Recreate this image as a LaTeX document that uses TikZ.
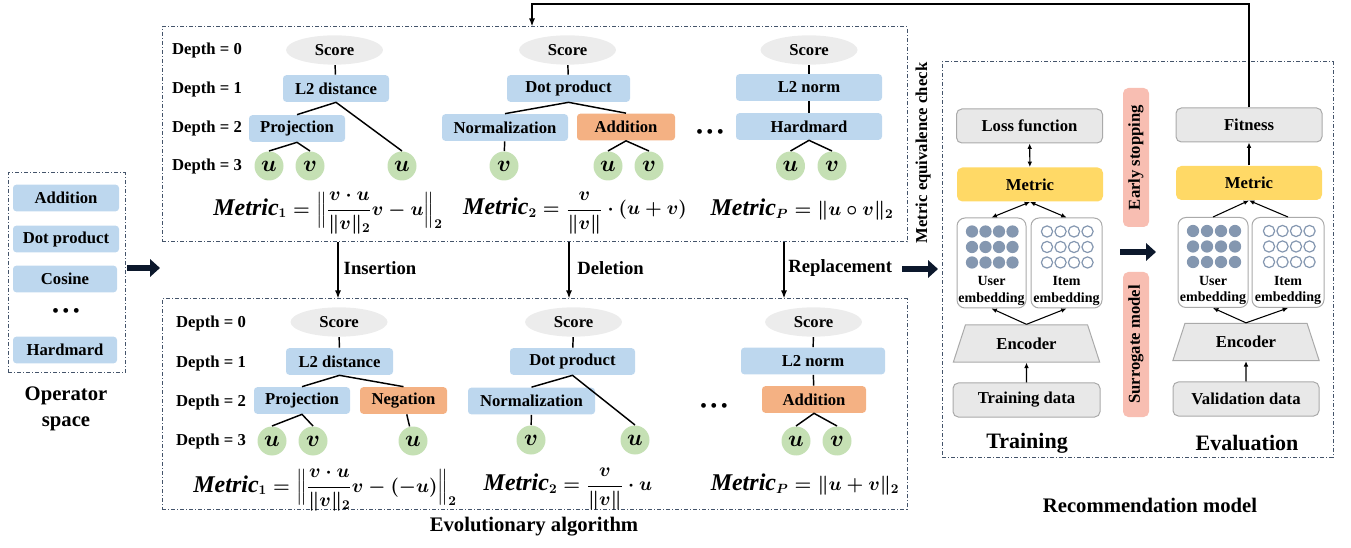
\documentclass[tikz,border=0pt]{standalone}
\usepackage{amsmath}
\usepackage{fontspec}
\setmainfont{Liberation Serif}
\usetikzlibrary{shapes.geometric,arrows.meta}

\newcommand{\metricword}{\mbox{\fontsize{18}{20}\selectfont\bfseries\itshape Metric}}

\tikzset{every picture/.style={line width=0.75pt}}
\tikzset{
  opbox/.style={fill={rgb, 255:red, 189; green, 215; blue, 238 }, rounded corners=2.5pt, inner sep=0pt, minimum height=20pt, font=\bfseries\fontsize{12.5}{14}\selectfont},
  newop/.style={opbox, fill={rgb, 255:red, 244; green, 177; blue, 131 }},
  scorenode/.style={ellipse, fill={rgb, 255:red, 236; green, 236; blue, 236 }, inner sep=0pt, minimum width=72.75pt, minimum height=22pt, font=\bfseries\fontsize{12.5}{14}\selectfont},
  leaf/.style={circle, fill={rgb, 255:red, 197; green, 224; blue, 180 }, inner sep=0pt, minimum size=21.75pt, font=\fontsize{17}{17}\selectfont\boldmath},
  depthtext/.style={font=\bfseries\fontsize{12.5}{14}\selectfont, inner sep=0.75pt},
  optext/.style={font=\bfseries\fontsize{14}{16}\selectfont, inner sep=0.75pt},
  metrictext/.style={font=\fontsize{14.5}{17}\selectfont\boldmath, inner sep=0.75pt},
  titletext/.style={font=\bfseries\fontsize{15.5}{20}\selectfont, inner sep=0.75pt},
  eaframe/.style={draw={rgb, 255:red, 68; green, 84; blue, 106 }, dash pattern=on 3pt off 1.5pt on 0.75pt off 1.5pt, line width=0.75pt, inner sep=0pt},
  treeline/.style={line width=1.1pt},
  oparrow/.style={-{Latex[length=6pt,width=4.5pt]}, line width=1.1pt},
  thinarrow/.style={-{Latex[length=4pt,width=3.5pt]}, line width=0.8pt},
  twoarrow/.style={{Latex[length=4pt,width=3.5pt]}-{Latex[length=4pt,width=3.5pt]}, line width=0.8pt},
  fatarrow/.style={-{Triangle[length=7.5pt,width=13pt]}, line width=5pt, draw={rgb, 255:red, 12; green, 24; blue, 44 }},
  grayblock/.style={draw={rgb, 255:red, 170; green, 170; blue, 170 }, fill={rgb, 255:red, 232; green, 232; blue, 232 }, rounded corners=4pt, inner sep=0pt, minimum width=109.5pt, minimum height=25.5pt, font=\bfseries\fontsize{12.5}{14}\selectfont},
  metricblock/.style={fill={rgb, 255:red, 255; green, 217; blue, 102 }, rounded corners=4pt, inner sep=0pt, minimum width=109.5pt, minimum height=25.5pt, font=\bfseries\fontsize{12.5}{14}\selectfont},
  embbox/.style={draw={rgb, 255:red, 170; green, 170; blue, 170 }, fill=white, rounded corners=6pt, inner sep=0pt, minimum width=52.5pt, minimum height=67.5pt},
  embtext/.style={font=\bfseries\fontsize{10.5}{12.5}\selectfont, align=center, inner sep=2pt},
  dotfull/.style={fill={rgb, 255:red, 132; green, 151; blue, 176 }},
  dotempty/.style={draw={rgb, 255:red, 132; green, 151; blue, 176 }, fill=white, line width=0.9pt},
  sidebox/.style={fill={rgb, 255:red, 248; green, 190; blue, 178 }, rounded corners=4pt, inner sep=0pt, rotate=90, minimum height=19.5pt, font=\bfseries\fontsize{12.5}{14}\selectfont},
  encoder/.style={trapezium, trapezium stretches=true, trapezium left angle=63, trapezium right angle=63, draw={rgb, 255:red, 170; green, 170; blue, 170 }, fill={rgb, 255:red, 232; green, 232; blue, 232 }, inner sep=0pt, minimum width=110.25pt, minimum height=28pt, font=\bfseries\fontsize{12.5}{14}\selectfont},
}

\begin{document}
\begin{tikzpicture}[x=0.75pt,y=0.75pt,yscale=-1,xscale=1]
\useasboundingbox (0,0) rectangle (1351,548);

%Shape: Operator space
\node[eaframe, minimum width=87.75pt, minimum height=150pt] (opspace) at (66.5,273) {};
\node[opbox, minimum width=79.5pt] (opadd) at (66,198) {Addition};
\node[opbox, minimum width=79.5pt] (opdot) at (66,239) {Dot product};
\node[opbox, minimum width=78pt] (opcos) at (65,279) {Cosine};
\node[font=\fontsize{15}{15}\selectfont] (opmore) at (66,313) {\textbullet\,\textbullet\,\textbullet};
\node[opbox, minimum width=78pt] (ophad) at (65,350) {Hardmard};
% Text Node
\node[titletext, align=center] (oplabel) at (66,409) {Operator\\space};

%Shape: Evolutionary algorithm frames
\node[eaframe, minimum width=558.75pt, minimum height=161.25pt] (eatop) at (534.5,134.5) {};
\node[eaframe, minimum width=558.75pt, minimum height=157.5pt] (eabot) at (534.5,404) {};
% Text Node
\node[titletext] (ealabel) at (534,527) {Evolutionary algorithm};

% Depth labels
\foreach \d/\y in {0/50,1/89,2/128,3/166} \node[depthtext] (dt\d) at (207,\y) {Depth = \d};
\foreach \d/\y in {0/323,1/363,2/402,3/441} \node[depthtext] (db\d) at (211,\y) {Depth = \d};

% Top tree 1
\node[scorenode] (sct1) at (334.5,50) {Score};
\node[opbox, minimum width=79.5pt] (l2t1) at (336,88.5) {L2 distance};
\node[opbox, minimum width=72pt] (prjt1) at (297,128.5) {Projection};
\node[leaf] (ut1) at (269,166) {$u$};
\node[leaf] (vt1) at (310,166) {$v$};
\node[leaf] (ut2) at (402,166) {$u$};
\draw[treeline] (sct1) -- (l2t1);
\draw[treeline] (prjt1.north) -- (l2t1.south) -- (ut2.north);
\draw[treeline] (ut1.north) -- (prjt1.south) -- (vt1.north);
\node[metrictext] (mett1) at (328,213) {$\metricword_1=\Bigl\lVert\dfrac{v\cdot u}{\lVert v\rVert_2}v-u\Bigr\rVert_2$};

% Top tree 2
\node[scorenode] (sct2) at (567.5,50) {Score};
\node[opbox, minimum width=92.25pt] (dott2) at (568.5,88.5) {Dot product};
\node[opbox, minimum width=94.5pt] (nrmt2) at (505,127.5) {Normalization};
\node[newop, minimum width=73.5pt] (addt2) at (626,127) {Addition};
\node[leaf] (vt3) at (504,166) {$v$};
\node[leaf] (ut4) at (608,166) {$u$};
\node[leaf] (vt4) at (649,166) {$v$};
\draw[treeline] (sct2) -- (dott2);
\draw[treeline] (nrmt2.north) -- (dott2.south) -- (addt2.north);
\draw[treeline] (nrmt2) -- (vt3);
\draw[treeline] (ut4.north) -- (addt2.south) -- (vt4.north);
\node[metrictext] (mett2) at (575,213) {$\metricword_2=\dfrac{v}{\lVert v\rVert}\cdot(u+v)$};

\node[font=\fontsize{15}{15}\selectfont] (moret) at (710,134) {\textbullet\,\textbullet\,\textbullet};

% Top tree 3
\node[scorenode] (sct3) at (809,50) {Score};
\node[opbox, minimum width=109.5pt] (l2nt3) at (809,87.5) {L2 norm};
\node[opbox, minimum width=109.5pt] (hadt3) at (809,126.5) {Hardmard};
\node[leaf] (ut5) at (790.5,166) {$u$};
\node[leaf] (vt5) at (832,166) {$v$};
\draw[treeline] (sct3) -- (l2nt3);
\draw[treeline] (l2nt3) -- (hadt3);
\draw[treeline] (ut5.north) -- (hadt3.south) -- (vt5.north);
\node[metrictext] (mett3) at (802,210) {$\metricword_P=\lVert u\circ v\rVert_2$};

% Bottom tree 1
\node[scorenode] (scb1) at (339,322) {Score};
\node[opbox, minimum width=80.25pt] (l2b1) at (339.5,361.5) {L2 distance};
\node[opbox, minimum width=72pt] (prjb1) at (302,400.5) {Projection};
\node[newop, minimum width=65.25pt] (negb1) at (403.5,400.5) {Negation};
\node[leaf] (ub1) at (272,441) {$u$};
\node[leaf] (vb1) at (313,441) {$v$};
\node[leaf] (ub2) at (413,441) {$u$};
\draw[treeline] (scb1) -- (l2b1);
\draw[treeline] (prjb1.north) -- (l2b1.south) -- (negb1.north);
\draw[treeline] (ub1.north) -- (prjb1.south) -- (vb1.north);
\draw[treeline] (negb1) -- (ub2);
\node[metrictext] (metb1) at (325,490) {$\metricword_1=\Bigl\lVert\dfrac{v\cdot u}{\lVert v\rVert_2}v-(-u)\Bigr\rVert_2$};

% Bottom tree 2
\node[scorenode] (scb2) at (573.5,322) {Score};
\node[opbox, minimum width=93.75pt] (dotb2) at (572.5,361.5) {Dot product};
\node[opbox, minimum width=95.25pt] (nrmb2) at (531.5,401) {Normalization};
\node[leaf] (vb3) at (531,440) {$v$};
\node[leaf] (ub3) at (635,440) {$u$};
\draw[treeline] (scb2) -- (dotb2);
\draw[treeline] (nrmb2.north) -- (dotb2.south) -- (ub3.north);
\draw[treeline] (nrmb2) -- (vb3);
\node[metrictext] (metb2) at (568,489) {$\metricword_2=\dfrac{v}{\lVert v\rVert}\cdot u$};

\node[font=\fontsize{15}{15}\selectfont] (moreb) at (714,408) {\textbullet\,\textbullet\,\textbullet};

% Bottom tree 3
\node[scorenode] (scb3) at (813.5,322) {Score};
\node[opbox, minimum width=108pt] (l2nb3) at (813,361) {L2 norm};
\node[newop, minimum width=78pt] (addb3) at (814,399.5) {Addition};
\node[leaf] (ub4) at (796,441) {$u$};
\node[leaf] (vb4) at (837,441) {$v$};
\draw[treeline] (scb3) -- (l2nb3);
\draw[treeline] (l2nb3) -- (addb3);
\draw[treeline] (ub4.north) -- (addb3.south) -- (vb4.north);
\node[metrictext] (metb3) at (805,485) {$\metricword_P=\lVert u+v\rVert_2$};

% Mutation arrows
\coordinate (insx) at (338,0);
\coordinate (delx) at (569,0);
\coordinate (repx) at (784,0);
\draw[oparrow] (eatop.south -| insx) -- (eabot.north -| insx) node[optext, pos=0.45, anchor=west, xshift=3pt] (inslabel) {Insertion};
\draw[oparrow] (eatop.south -| delx) -- (eabot.north -| delx) node[optext, pos=0.45, anchor=west, xshift=5pt] (dellabel) {Deletion};
\draw[oparrow] (eatop.south -| repx) -- (eabot.north -| repx) node[optext, pos=0.45, anchor=west, xshift=2pt] (replabel) {Replacement};

% Big arrows
\coordinate (fa1s) at (127,268);
\coordinate (fa1e) at (160,268);
\draw[fatarrow] (fa1s) -- (fa1e);
\coordinate (fa2s) at (902,269);
\coordinate (fa2e) at (938,269);
\draw[fatarrow] (fa2s) -- (fa2e);
\coordinate (fa3s) at (1120,252);
\coordinate (fa3e) at (1156,252);
\draw[fatarrow] (fa3s) -- (fa3e);

% Text Node
\node[rotate=90, font=\bfseries\fontsize{12.5}{14}\selectfont, inner sep=0.75pt] (eqcheck) at (923,153) {Metric equivalence check};

%Shape: Recommendation model frame
\node[eaframe, minimum width=293.25pt, minimum height=296.25pt] (recframe) at (1137.5,259.5) {};
\node[titletext] (reclabel) at (1150,505) {Recommendation model};

% Training
\node[grayblock] (losst) at (1029.5,126) {Loss function};
\node[metricblock] (mett) at (1030,184.5) {Metric};
\node[embbox, minimum width=51.75pt] (usert) at (991.5,263) {};
\node[embbox, minimum width=53.25pt] (itemt) at (1066.5,263) {};
\node[encoder] (enct) at (1026.5,343.5) {Encoder};
\node[grayblock, minimum width=110.25pt] (traint) at (1026.5,400) {Training data};
\node[titletext, font=\bfseries\fontsize{16.5}{20}\selectfont] (trainlabel) at (1027,443) {Training};
\foreach \i in {0,...,3} \foreach \j in {0,...,2} {
  \fill[dotfull] (usert.north) ++(-19.5+13.5*\i,14+15.5*\j) circle[radius=4.6pt];
  \draw[dotempty] (itemt.north) ++(-19.5+13.5*\i,14+15.5*\j) circle[radius=4.2pt];
}
\node[embtext, anchor=south] (usertl) at (usert.south) {User\\embedding};
\node[embtext, anchor=south] (itemtl) at (itemt.south) {Item\\embedding};
\draw[twoarrow] (losst) -- (mett);
\draw[twoarrow] (mett.south) -- (usert.north);
\draw[twoarrow] (mett.south) -- (itemt.north);
\draw[thinarrow] (enct.north) -- (usert.south);
\draw[thinarrow] (enct.north) -- (itemt.south);
\draw[thinarrow] (traint) -- (enct);

% Side boxes
\node[sidebox, minimum width=104.25pt] (stopbox) at (1136,157.5) {Early stopping};
\node[sidebox, minimum width=108.75pt] (surbox) at (1136,344.5) {Surrogate model};

% Evaluation
\node[grayblock] (fite) at (1249,125) {Fitness};
\node[metricblock] (mete) at (1249,183) {Metric};
\node[embbox, minimum width=52.5pt] (usere) at (1213,262.5) {};
\node[embbox, minimum width=54pt] (iteme) at (1288,262.5) {};
\node[encoder] (ence) at (1246,342) {Encoder};
\node[grayblock] (vale) at (1246,399) {Validation data};
\node[titletext, font=\bfseries\fontsize{16.5}{20}\selectfont] (evallabel) at (1247,443) {Evaluation};
\foreach \i in {0,...,3} \foreach \j in {0,...,2} {
  \fill[dotfull] (usere.north) ++(-20+14*\i,14+15.5*\j) circle[radius=4.6pt];
  \draw[dotempty] (iteme.north) ++(-19+13.5*\i,14+15.5*\j) circle[radius=4.2pt];
}
\node[embtext, anchor=south] (userel) at (usere.south) {User\\embedding};
\node[embtext, anchor=south] (itemel) at (iteme.south) {Item\\embedding};
\draw[thinarrow] (mete) -- (fite);
\draw[thinarrow] (usere.north) -- (mete.south);
\draw[thinarrow] (iteme.north) -- (mete.south);
\draw[thinarrow] (ence.north) -- (usere.south);
\draw[thinarrow] (ence.north) -- (iteme.south);
\draw[thinarrow] (vale) -- (ence);

% Feedback
\coordinate (fbtop) at (532,4);
\draw[oparrow] (fite.north) |- (fbtop) -- (eatop.north -| fbtop);

\end{tikzpicture}
\end{document}
